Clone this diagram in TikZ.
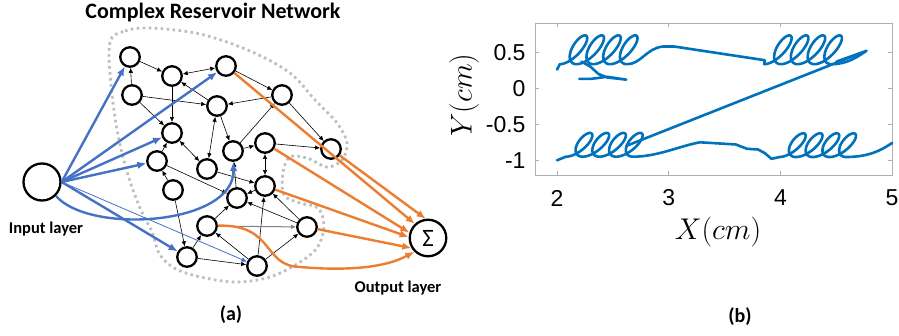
\documentclass[tikz,border=0pt]{standalone}
\usepackage{fix-cm}
\usepackage{fontspec}
\setmainfont{Carlito}
\newfontfamily\plotfont{Liberation Sans}
\usetikzlibrary{arrows.meta}
\definecolor{inblue}{HTML}{4472C4}
\definecolor{outorange}{HTML}{ED7D31}
\definecolor{trajblue}{RGB}{0,114,189}
\definecolor{rimgray}{RGB}{190,190,190}
\definecolor{axgray}{RGB}{175,175,175}
\begin{document}
\begin{tikzpicture}[x=1pt, y=-1pt, >={Latex[length=5pt, width=4.5pt]},
  neuron/.style={draw, circle, fill=white, line width=2.3pt, minimum size=19.5pt, inner sep=0pt},
  syn/.style={->, line width=0.6pt},
  insyn/.style={-{Latex[length=9pt, width=7.5pt]}, line width=2.4pt, inblue},
  outsyn/.style={-{Latex[length=9pt, width=7.5pt]}, line width=2.4pt, outorange},
  traj/.style={trajblue, line width=2.6pt, line join=round, line cap=round}]
\useasboundingbox (0,0) rectangle (899,336);
\draw[rimgray, line width=2.8pt, dash pattern=on 2.6pt off 3.4pt] plot[smooth cycle, tension=0.55] coordinates {(110,42) (125,31) (150,28) (200,34) (250,51) (290,73) (315,100) (337,123) (347,143) (342,160) (327,167) (307,158) (290,157) (283,172) (284,195) (300,203) (318,208) (324,226) (317,248) (297,264) (270,277) (240,282) (210,279) (178,270) (160,255) (152,232) (140,208) (128,175) (118,135) (111,85)};
\node (in) [neuron, minimum size=37pt] at (42,182) {};
\node (n1) [neuron] at (130,57) {};
\node (n2) [neuron] at (172,76) {};
\node (n3) [neuron] at (226,66) {};
\node (n4) [neuron] at (132,95) {};
\node (n5) [neuron] at (217,106) {};
\node (n6) [neuron] at (282,95) {};
\node (n7) [neuron] at (172,133) {};
\node (n8) [neuron] at (233,151) {};
\node (n9) [neuron] at (265,143) {};
\node (n10) [neuron] at (157,161) {};
\node (n11) [neuron] at (207,169) {};
\node (n12) [neuron] at (331,149) {};
\node (n13) [neuron] at (173,190) {};
\node (n14) [neuron] at (237,198) {};
\node (n15) [neuron] at (265,186) {};
\node (n16) [neuron] at (207,226) {};
\node (n17) [neuron] at (187,257) {};
\node (n18) [neuron] at (257,266) {};
\node (n19) [neuron] at (307,227) {};
\node (sum) [neuron, minimum size=36.5pt, font=\fontsize{25}{25}\selectfont] at (428,238) {Σ};
\draw[syn] (n1) -- (n2);
\draw[syn, <->] (n2) -- (n3);
\draw[syn] (n4) -- (n1);
\draw[syn] (n2) -- (n7);
\draw[syn] (n4) -- (n5);
\draw[syn] (n4) -- (n7);
\draw[syn] (n5) -- (n2);
\draw[syn] (n6) -- (n5);
\draw[syn] (n3) -- (n6);
\draw[syn] (n8) -- (n6);
\draw[syn] (n5) -- (n8);
\draw[syn] (n6) -- (n12);
\draw[syn] (n9) -- (n12);
\draw[syn] (n8) -- (n9);
\draw[syn, <->] (n5) -- (n11);
\draw[syn] (n10) -- (n7);
\draw[syn, <->] (n7) -- (n11);
\draw[syn] (n13) -- (n10);
\draw[syn] (n10) -- (n14);
\draw[syn] (n11) -- (n15);
\draw[syn] (n13) -- (n17);
\draw[syn] (n17) -- (n16);
\draw[syn] (n16) -- (n14);
\draw[syn] (n18) -- (n16);
\draw[syn] (n17) -- (n18);
\draw[syn] (n18) -- (n15);
\draw[syn] (n14) -- (n8);
\draw[syn, <->] (n9) -- (n15);
\draw[syn] (n15) -- (n14);
\draw[syn] (n19) -- (n14);
\draw[syn] (n19) -- (n15);
\draw[syn] (n18) -- (n19);
\draw[syn, gray, line width=1pt] (n16) -- (n19);
\draw[insyn] (in.east) -- (n1);
\draw[insyn] (in.east) -- (n3);
\draw[insyn] (in.east) -- (n7);
\draw[insyn] (in.east) -- (n10);
\draw[insyn] (in.east) -- (n17);
\draw[insyn, line width=0.8pt, -{Latex[length=5.5pt, width=5pt]}] (in.east) -- (n18);
\draw[insyn] (in.-45) .. controls (90,235) and (235,225) .. (n8);
\draw[outsyn] (n3) -- (sum.133);
\draw[outsyn] (n12) -- (sum.97);
\draw[outsyn] (n9) -- (sum.164);
\draw[outsyn] (n15) -- (sum.177);
\draw[outsyn] (n19) -- (sum.211);
\draw[outsyn] (n16) .. controls (275,224) and (262,266) .. (300,267) .. controls (345,271) and (385,268) .. (sum.225);
\node (title) [font=\bfseries\fontsize{22}{26}\selectfont] at (213,13) {Complex Reservoir Network};
\node (inlab) [font=\bfseries\fontsize{16.5}{20}\selectfont] at (46,229) {Input layer};
\node (outlab) [font=\bfseries\fontsize{16.5}{20}\selectfont] at (398,288) {Output layer};
\node (capa) [font=\bfseries\fontsize{20}{24}\selectfont] at (231,315) {(a)};
\node (capb) [font=\bfseries\fontsize{20}{24}\selectfont] at (740,317) {(b)};
\draw[axgray, line width=0.8pt] (535,23) rectangle (892,175);
\foreach \t/\px in {2/557, 3/668.7, 4/780.4, 5/892} {
  \draw[axgray, line width=0.8pt] (\px,175) -- (\px,171) (\px,23) -- (\px,27);
  \node (xt\t) [font=\plotfont\fontsize{23}{23}\selectfont] at (\px,198) {\t};
}
\foreach \v/\py [count=\i] in {0.5/52.3, 0/88.3, -0.5/124.3, -1/160.3} {
  \draw[axgray, line width=0.8pt] (535,\py) -- (539,\py) (892,\py) -- (888,\py);
  \node (yt\i) [font=\plotfont\fontsize{23}{23}\selectfont, anchor=east] at (529,\py) {\v};
}
\node (xlab) [font=\fontsize{30}{30}\selectfont] at (718,232) {$X(cm)$};
\node (ylab) [font=\fontsize{30}{30}\selectfont, rotate=90] at (464,95) {$Y(cm)$};
\begin{scope}[shift={(333.6,88.3)}, x=111.7pt, y=72pt]
\draw[traj] (2.0,-1.0) -- plot[domain=0:1440, samples=181, smooth] ({2.15+0.15*\x/360+0.085*sin(\x)-0.07*cos(\x)}, {-0.785-0.165*cos(\x)})
  .. controls (2.9,-0.95) and (3.1,-0.8) .. (3.28,-0.75) -- (3.6,-0.78) -- (3.7,-0.84) -- (3.8,-0.85) -- (3.86,-0.9) -- (3.92,-0.98)
  -- plot[domain=0:1440, samples=181, smooth] ({4.06+0.15*\x/360+0.085*sin(\x)-0.07*cos(\x)}, {-0.79-0.165*cos(\x)})
  .. controls (4.8,-0.95) and (4.9,-0.86) .. (5.0,-0.76);
\draw[traj] (2.62,-0.8) -- (4.77,0.52) -- (4.5,0.37);
\draw[traj] (2.0,0.26) -- plot[domain=0:1440, samples=181, smooth] ({2.10+0.15*\x/360+0.085*sin(\x)-0.075*cos(\x)}, {0.535-0.2*cos(\x)})
  .. controls (2.75,0.33) and (2.8,0.56) .. (2.95,0.58) -- (3.05,0.58) -- (3.86,0.39)
  -- plot[domain=0:1440, samples=181, smooth] ({3.93+0.15*\x/360+0.085*sin(\x)-0.075*cos(\x)}, {0.535-0.2*cos(\x)})
  .. controls (4.6,0.33) and (4.7,0.45) .. (4.77,0.52);
\draw[traj] (2.22,0.37) -- (2.3,0.3) -- (2.37,0.2) -- (2.45,0.15) -- (2.62,0.12) -- (2.45,0.16) -- (2.3,0.13) -- (2.2,0.13);
\end{scope}
\end{tikzpicture}
\end{document}
